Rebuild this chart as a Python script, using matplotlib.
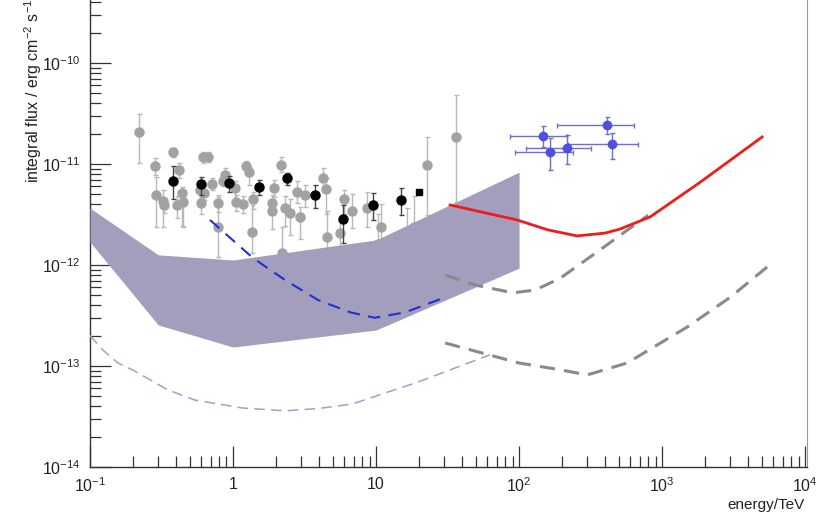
import numpy as np
import matplotlib
matplotlib.use("Agg")
import matplotlib.pyplot as plt
from matplotlib.ticker import FixedLocator, LogLocator, NullFormatter, FixedFormatter

plt.rcParams['font.family'] = ['Liberation Sans', 'DejaVu Sans']
plt.rcParams['mathtext.fontset'] = 'custom'
plt.rcParams['mathtext.rm'] = 'Liberation Sans'
plt.rcParams['mathtext.it'] = 'Liberation Sans:italic'

# ---------------- data ----------------
# sensitivity band (upper and lower edges)
band_E = [0.1, 0.3, 1.0, 10.0, 100.0]
band_hi = [3.66e-12, 1.26e-12, 1.12e-12, 1.77e-12, 8.3e-12]
band_lo = [1.69e-12, 2.55e-13, 1.54e-13, 2.27e-13, 9.3e-13]

# blue dashed curve
blue_E = [0.69, 1.38, 2.31, 3.93, 6.6, 9.8, 16.0, 29.4]
blue_F = [2.79e-12, 1.17e-12, 7.1e-13, 4.5e-13, 3.4e-13, 3.0e-13, 3.4e-13, 4.7e-13]

# lavender dashed curve
lav_E = [0.1, 0.125, 0.157, 0.2, 0.35, 0.54, 1.16, 2.31, 4.0, 6.8, 19.7, 62.6]
lav_F = [2.0e-13, 1.41e-13, 1.07e-13, 9.1e-14, 5.8e-14, 4.6e-14, 3.84e-14, 3.6e-14, 3.8e-14, 4.2e-14, 6.95e-14, 1.29e-13]

# grey dashed curves
gu_E = [30.4, 50.0, 90.8, 130.0, 194.0, 368.0, 668.0, 800.0]
gu_F = [7.96e-13, 6.3e-13, 5.3e-13, 5.66e-13, 7.4e-13, 1.41e-12, 2.6e-12, 3.1e-12]
gl_E = [30.4, 100.0, 200.0, 299.0, 569.0, 1496.0, 3000.0, 5420.0]
gl_F = [1.69e-13, 1.07e-13, 9.1e-14, 8.15e-14, 1.07e-13, 2.43e-13, 4.8e-13, 9.55e-13]

# red curve
red_E = [32.9, 96.8, 160.0, 255.0, 400.0, 508.0, 824.0, 1845.0, 5000.0]
red_F = [3.93e-12, 2.79e-12, 2.22e-12, 1.94e-12, 2.07e-12, 2.27e-12, 2.99e-12, 6.6e-12, 1.85e-11]

# grey data points: energy, flux, upper, lower
grey_E = [0.22, 0.285, 0.29, 0.324, 0.33, 0.38, 0.419, 0.44, 0.406, 0.45,
          0.617, 0.668, 0.588, 0.597, 0.63, 0.713, 0.785, 0.785, 0.879, 0.851,
          1.03, 1.05, 1.175, 1.233, 1.294, 1.38, 1.36, 1.93, 1.87, 1.87,
          2.17, 2.31, 2.5, 2.94, 2.8, 3.18, 4.26, 4.5, 4.54, 5.6,
          5.97, 6.8, 8.65, 10.8, 22.7, 36.2, 2.2, 10.3, 16.5, 18.5]
grey_F = [2.07e-11, 9.5e-12, 4.9e-12, 4.3e-12, 3.9e-12, 1.31e-11, 8.7e-12, 5.2e-12, 3.9e-12, 4.2e-12,
          1.17e-11, 1.18e-11, 5.5e-12, 4.1e-12, 5.2e-12, 6.4e-12, 4.1e-12, 2.35e-12, 7.8e-12, 6.8e-12,
          5.8e-12, 4.2e-12, 4.0e-12, 9.5e-12, 8.3e-12, 4.5e-12, 2.1e-12, 5.8e-12, 4.1e-12, 3.4e-12,
          9.8e-12, 3.7e-12, 3.27e-12, 3.0e-12, 5.3e-12, 4.9e-12, 7.3e-12, 5.6e-12, 1.9e-12, 2.07e-12,
          4.5e-12, 3.4e-12, 3.7e-12, 2.35e-12, 9.8e-12, 1.85e-11, 1.3e-12, 1.6e-12, 2.1e-12, 2.35e-12]
grey_hi = [3.13e-11, 1.15e-11, 7.4e-12, 5.5e-12, 4.6e-12, 1.45e-11, 1.02e-11, 5.9e-12, 4.8e-12, 5.5e-12,
           1.3e-11, 1.3e-11, 6.4e-12, 4.8e-12, 6.0e-12, 7.3e-12, 4.9e-12, 4.7e-12, 9.1e-12, 7.6e-12,
           6.8e-12, 4.9e-12, 4.8e-12, 1.08e-11, 9.3e-12, 5.3e-12, 3.93e-12, 6.9e-12, 4.9e-12, 4.5e-12,
           1.17e-11, 4.8e-12, 4.5e-12, 3.75e-12, 6.8e-12, 6.2e-12, 9.1e-12, 7.2e-12, 3.4e-12, 2.7e-12,
           5.5e-12, 5.0e-12, 5.3e-12, 4.0e-12, 1.85e-11, 4.8e-11, 2.35e-12, 3.2e-12, 3.7e-12, 4.8e-12]
grey_lo = [1.02e-11, 7.8e-12, 2.38e-12, 2.38e-12, 3.3e-12, 1.17e-11, 7.3e-12, 2.45e-12, 2.9e-12, 2.4e-12,
           1.02e-11, 1.04e-11, 4.45e-12, 3.2e-12, 4.4e-12, 5.5e-12, 3.35e-12, 1.2e-12, 6.7e-12, 6.0e-12,
           4.1e-12, 3.4e-12, 3.3e-12, 8.3e-12, 6.2e-12, 3.6e-12, 1.31e-12, 4.7e-12, 3.4e-12, 2.27e-12,
           8.3e-12, 2.45e-12, 2.0e-12, 1.8e-12, 4.1e-12, 3.75e-12, 5.5e-12, 3.2e-12, 1.4e-12, 1.4e-12,
           3.2e-12, 2.3e-12, 2.4e-12, 1.75e-12, 3.1e-12, 4.2e-12, 1.0e-12, 1.2e-12, 1.5e-12, 1.7e-12]

# black data points
black_E = [0.38, 0.597, 0.938, 1.52, 2.39, 3.74, 5.87, 9.5, 15.0]
black_F = [6.8e-12, 6.4e-12, 6.5e-12, 5.9e-12, 7.3e-12, 4.9e-12, 2.85e-12, 3.93e-12, 4.4e-12]
black_hi = [9.6e-12, 7.4e-12, 7.6e-12, 6.95e-12, 8.1e-12, 6.2e-12, 3.9e-12, 5.16e-12, 5.8e-12]
black_lo = [4.45e-12, 4.9e-12, 5.3e-12, 4.9e-12, 6.2e-12, 3.7e-12, 1.65e-12, 2.79e-12, 3.13e-12]
square_E = [20.0]
square_F = [5.3e-12]

# blue data points with energy ranges
bp_E = [147.0, 165.0, 217.0, 412.0, 447.0]
bp_F = [1.89e-11, 1.31e-11, 1.44e-11, 2.43e-11, 1.58e-11]
bp_Elo = [86.5, 93.7, 112.0, 185.0, 220.0]
bp_Ehi = [217.0, 239.0, 319.0, 637.0, 679.0]
bp_Fhi = [2.38e-11, 1.81e-11, 1.94e-11, 2.92e-11, 2.03e-11]
bp_Flo = [1.47e-11, 8.7e-12, 1.0e-11, 1.98e-11, 1.12e-11]

xtick_vals = [0.1, 1, 10, 100, 1000, 10000]
xtick_labels = [r'$10^{-1}$', '1', '10', r'$10^{2}$', r'$10^{3}$', r'$10^{4}$']
ytick_vals = [1e-14, 1e-13, 1e-12, 1e-11, 1e-10]
ytick_labels = [r'$10^{-14}$', r'$10^{-13}$', r'$10^{-12}$', r'$10^{-11}$', r'$10^{-10}$']

# ---------------- plot ----------------
W, H = 823, 513
fig = plt.figure(figsize=(W / 100, H / 100), dpi=100)
ax = fig.add_axes([90 / W, 46 / H, (807 - 90) / W, (467 - 0) / H])
ax.set_xscale('log')
ax.set_yscale('log')
ax.set_xlim(0.1, 1.03e4)
ax.set_ylim(1e-14, 4.2e-10)

# grey points
gE = np.array(grey_E); gF = np.array(grey_F)
ax.errorbar(gE, gF, yerr=[gF - np.array(grey_lo), np.array(grey_hi) - gF],
            fmt='o', ms=6.5, color='#a2a2a2', mec='#a2a2a2', ecolor='#b8b8b8',
            elinewidth=1.0, capsize=1.8, capthick=1.0, zorder=2)
bE = np.array(black_E); bF = np.array(black_F)
ax.errorbar(bE, bF, yerr=[bF - np.array(black_lo), np.array(black_hi) - bF],
            fmt='o', ms=6.5, color='black', ecolor='#444444',
            elinewidth=1.0, capsize=1.8, capthick=1.0, zorder=2.5)
ax.plot(square_E, square_F, 's', ms=5, color='black', zorder=2.5)

# band
ax.fill_between(band_E, band_lo, band_hi, color='#a29ebb', lw=0, zorder=3)

# curves
ax.plot(lav_E, lav_F, color='#a0a0d0', lw=1.1, dashes=(7, 4), zorder=4)
ax.plot(blue_E, blue_F, color='#2030d8', lw=1.5, dashes=(6, 4), zorder=4)
ax.plot(gu_E, gu_F, color='#8a8a8a', lw=2.2, dashes=(5, 3), zorder=4)
ax.plot(gl_E, gl_F, color='#8a8a8a', lw=2.2, dashes=(5, 3), zorder=4)
ax.plot(red_E, red_F, color='#ee1c1c', lw=2.0, zorder=4.5)

# blue points
pE = np.array(bp_E); pF = np.array(bp_F)
ax.errorbar(pE, pF,
            xerr=[pE - np.array(bp_Elo), np.array(bp_Ehi) - pE],
            yerr=[pF - np.array(bp_Flo), np.array(bp_Fhi) - pF],
            fmt='o', ms=6, color='#5050dc', ecolor='#7070c8',
            elinewidth=1.0, capsize=1.8, capthick=1.0, zorder=5)

# axes styling
ax.spines['top'].set_visible(False)
ax.spines['right'].set_color('#999999')
for s in ['left', 'bottom']:
    ax.spines[s].set_color('#333333')
    ax.spines[s].set_linewidth(1.0)

ax.xaxis.set_major_locator(FixedLocator(xtick_vals))
ax.xaxis.set_major_formatter(FixedFormatter(xtick_labels))
ax.xaxis.set_minor_locator(LogLocator(base=10, subs=np.arange(2, 10), numticks=50))
ax.xaxis.set_minor_formatter(NullFormatter())
ax.yaxis.set_major_locator(FixedLocator(ytick_vals))
ax.yaxis.set_major_formatter(FixedFormatter(ytick_labels))
ax.yaxis.set_minor_locator(LogLocator(base=10, subs=np.arange(2, 10), numticks=50))
ax.yaxis.set_minor_formatter(NullFormatter())

ax.tick_params(which='both', direction='in', colors='#333333', labelcolor='#222222',
               top=False, right=False, width=0.9)
ax.tick_params(which='major', length=15, labelsize=11.5)
ax.tick_params(which='minor', length=8)
ax.tick_params(axis='x', which='major', pad=7)
ax.tick_params(axis='y', which='major', pad=7)

fig.text(33 / W, 1 - 183 / H, r'integral flux / erg cm$^{-2}$ s$^{-1}$', rotation=90,
         ha='center', va='bottom', fontsize=11.5, color='#222222')
fig.text(805 / W, 1 - 512 / H, 'energy/TeV', ha='right', va='bottom',
         fontsize=11, color='#222222')

fig.savefig('out.png', dpi=100)
